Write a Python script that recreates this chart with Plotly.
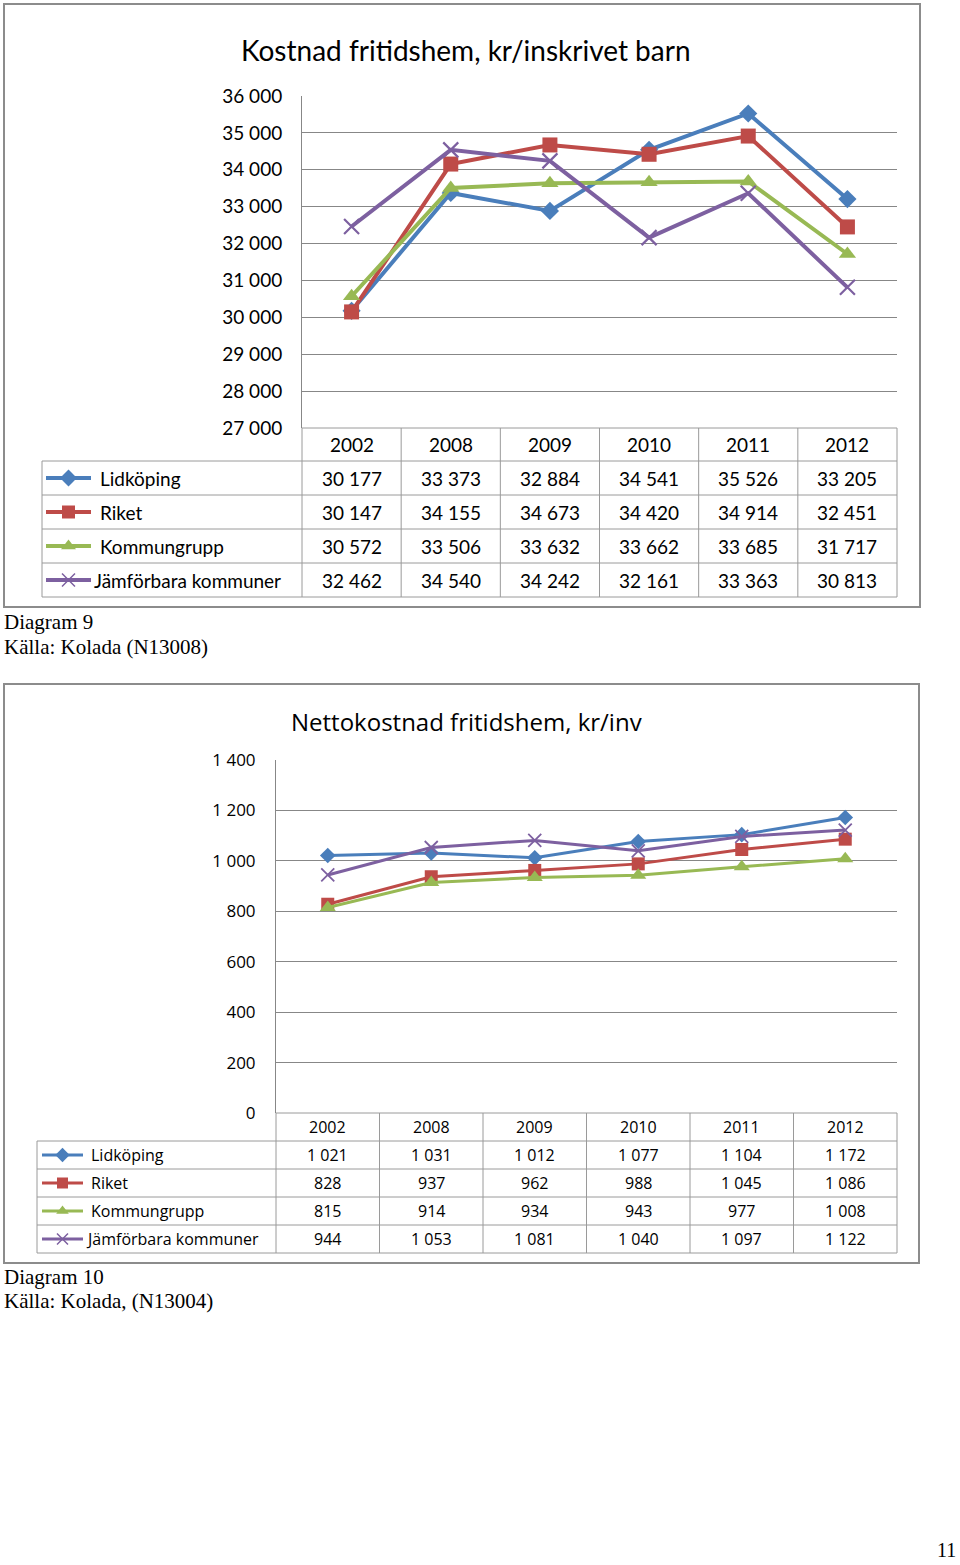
import plotly.graph_objects as go

W, H = 960, 1565

years = ["2002", "2008", "2009", "2010", "2011", "2012"]
series_names = ["Lidköping", "Riket", "Kommungrupp", "Jämförbara kommuner"]

# Diagram 9: Kostnad fritidshem, kr/inskrivet barn
c1_lidkoping = [30177, 33373, 32884, 34541, 35526, 33205]
c1_riket = [30147, 34155, 34673, 34420, 34914, 32451]
c1_kommungrupp = [30572, 33506, 33632, 33662, 33685, 31717]
c1_jamforbara = [32462, 34540, 34242, 32161, 33363, 30813]
c1_ticks = [27000, 28000, 29000, 30000, 31000, 32000, 33000, 34000, 35000, 36000]

# Diagram 10: Nettokostnad fritidshem, kr/inv
c2_lidkoping = [1021, 1031, 1012, 1077, 1104, 1172]
c2_riket = [828, 937, 962, 988, 1045, 1086]
c2_kommungrupp = [815, 914, 934, 943, 977, 1008]
c2_jamforbara = [944, 1053, 1081, 1040, 1097, 1122]
c2_ticks = [0, 200, 400, 600, 800, 1000, 1200, 1400]

c1_series = [c1_lidkoping, c1_riket, c1_kommungrupp, c1_jamforbara]
c2_series = [c2_lidkoping, c2_riket, c2_kommungrupp, c2_jamforbara]

colors = ["#4A7EBB", "#BE4B48", "#98B954", "#7D60A0"]
symbols = ["diamond", "square", "triangle-up", "x-thin"]
c1_msize = [14, 15, 15, 15]
c2_msize = [12, 13, 14, 13]

FONT1 = "Lato, Carlito, 'Open Sans', sans-serif"
FONT2 = "'Open Sans', Lato, sans-serif"
SERIF = "'Liberation Serif', 'DejaVu Serif', serif"
GRID = "#878787"
TBL = "#9A9A9A"
BORDER = "#8C8C8C"


def fmt(v):
    return f"{v:,}".replace(",", " ")


def py(p):
    return 1 - p / H


fig = go.Figure()

# data traces
for i in range(4):
    fig.add_trace(go.Scatter(
        x=years, y=c1_series[i], mode="lines+markers", name=series_names[i],
        line=dict(color=colors[i], width=4),
        marker=dict(symbol=symbols[i], size=c1_msize[i], color=colors[i],
                    line=dict(color=colors[i], width=2.2 if symbols[i] == "x-thin" else 0)),
        xaxis="x", yaxis="y", showlegend=False, hoverinfo="skip"))
for i in range(4):
    fig.add_trace(go.Scatter(
        x=years, y=c2_series[i], mode="lines+markers", name=series_names[i],
        line=dict(color=colors[i], width=3),
        marker=dict(symbol=symbols[i], size=c2_msize[i], color=colors[i],
                    line=dict(color=colors[i], width=1.8 if symbols[i] == "x-thin" else 0)),
        xaxis="x2", yaxis="y2", showlegend=False, hoverinfo="skip"))

shapes = []
annotations = []


def hline(x0, x1, y, color=TBL, w=1):
    shapes.append(dict(type="line", xref="x3", yref="y3", x0=x0, x1=x1, y0=y, y1=y,
                       line=dict(color=color, width=w), layer="above"))


def vline(x, y0, y1, color=TBL, w=1):
    shapes.append(dict(type="line", xref="x3", yref="y3", x0=x, x1=x, y0=y0, y1=y1,
                       line=dict(color=color, width=w), layer="above"))


def text(x, y, s, size, xanchor="center", family=FONT1, color="#000000"):
    annotations.append(dict(x=x, y=y, xref="x3", yref="y3", text=s, showarrow=False,
                            xanchor=xanchor, yanchor="middle", borderpad=0,
                            font=dict(family=family, size=size, color=color)))


def build_table(series, x_left, x_plot, x_right, rows, fsize, family, icon, text_x, jam_x, lw, msz):
    ncol = len(years)
    cw = (x_right - x_plot) / ncol
    hline(x_plot, x_right, rows[0])
    for r in rows[1:]:
        hline(x_left, x_right, r)
    vline(x_left, rows[1], rows[-1])
    for c in range(ncol + 1):
        vline(x_plot + c * cw, rows[0], rows[-1])
    for c in range(ncol):
        text(x_plot + (c + 0.5) * cw, (rows[0] + rows[1]) / 2, years[c], fsize, family=family)
    for i in range(4):
        yc = (rows[i + 1] + rows[i + 2]) / 2
        for c in range(ncol):
            text(x_plot + (c + 0.5) * cw, yc, fmt(series[i][c]), fsize, family=family)
        tx = jam_x if i == 3 else text_x
        text(tx, yc, series_names[i], fsize, xanchor="left", family=family)
        fig.add_trace(go.Scatter(
            x=[icon[0], icon[1]], y=[yc, yc], mode="lines",
            line=dict(color=colors[i], width=lw), xaxis="x3", yaxis="y3",
            showlegend=False, hoverinfo="skip"))
        fig.add_trace(go.Scatter(
            x=[(icon[0] + icon[1]) / 2], y=[yc], mode="markers",
            marker=dict(symbol=symbols[i], size=msz, color=colors[i],
                        line=dict(color=colors[i], width=1.5 if symbols[i] == "x-thin" else 0)),
            xaxis="x3", yaxis="y3", showlegend=False, hoverinfo="skip"))


# ---- Chart 1 frame, title, table
shapes.append(dict(type="rect", xref="x3", yref="y3", x0=4, x1=920, y0=4, y1=607,
                   line=dict(color=BORDER, width=2), layer="below"))
text(466, 50, "Kostnad fritidshem, kr/inskrivet barn", 28)
build_table(c1_series, 42, 302, 897, [428, 461, 495, 529, 563, 597], 19, FONT1,
            (46, 91), 99, 93, 4, 13)

# ---- Chart 2 frame, title, table
shapes.append(dict(type="rect", xref="x3", yref="y3", x0=4, x1=919, y0=684, y1=1263,
                   line=dict(color=BORDER, width=2), layer="below"))
text(466, 721, "Nettokostnad fritidshem, kr/inv", 24, family=FONT2)
build_table(c2_series, 37, 276, 897, [1113, 1141, 1169, 1197, 1225, 1253], 16, FONT2,
            (42, 83), 90, 85, 3, 11)

# ---- captions
text(3, 622, "Diagram 9", 21, xanchor="left", family=SERIF)
text(3, 647, "Källa: Kolada (N13008)", 21, xanchor="left", family=SERIF)
text(3, 1277, "Diagram 10", 21, xanchor="left", family=SERIF)
text(3, 1301, "Källa: Kolada, (N13004)", 21, xanchor="left", family=SERIF)
text(957, 1550, "11", 20, xanchor="right", family=SERIF)

fig.update_layout(
    width=W, height=H, margin=dict(l=0, r=0, t=0, b=0, autoexpand=False),
    paper_bgcolor="white", plot_bgcolor="rgba(0,0,0,0)",
    showlegend=False,
    xaxis=dict(domain=[302 / W, 897 / W], anchor="y", type="category",
               range=[-0.5, 5.5], showticklabels=False, showgrid=False,
               zeroline=False, ticks=""),
    yaxis=dict(domain=[py(428), py(96)], anchor="x", range=[27000, 36000],
               tickvals=c1_ticks, ticktext=[fmt(v) for v in c1_ticks],
               tickfont=dict(family=FONT1, size=19, color="#000000"),
               showgrid=True, gridcolor=GRID, gridwidth=1, zeroline=False,
               showline=True, linecolor=GRID, linewidth=1, ticks="",
               ticklabelstandoff=15),
    xaxis2=dict(domain=[276 / W, 897 / W], anchor="y2", type="category",
                range=[-0.5, 5.5], showticklabels=False, showgrid=False,
                zeroline=False, ticks=""),
    yaxis2=dict(domain=[py(1113), py(760)], anchor="x2", range=[0, 1400],
                tickvals=c2_ticks, ticktext=[fmt(v) for v in c2_ticks],
                tickfont=dict(family=FONT2, size=17, color="#000000"),
                showgrid=True, gridcolor=GRID, gridwidth=1, zeroline=False,
                showline=True, linecolor=GRID, linewidth=1, ticks="",
                ticklabelstandoff=16),
    xaxis3=dict(domain=[0, 1], anchor="y3", range=[0, W], visible=False, fixedrange=True),
    yaxis3=dict(domain=[0, 1], anchor="x3", range=[H, 0], visible=False, fixedrange=True),
    shapes=shapes,
    annotations=annotations,
)

fig.write_html("out.html")
